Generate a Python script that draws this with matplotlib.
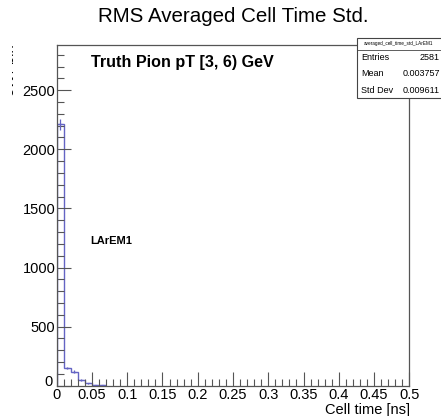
import numpy as np
import matplotlib.pyplot as plt
from matplotlib.ticker import MultipleLocator, FuncFormatter
from matplotlib.transforms import Bbox

# histogram contents (bin width 0.01 ns)
bin_edges = [0.0, 0.01, 0.02, 0.03, 0.04, 0.05, 0.06, 0.07]
counts = [2210, 150, 118, 48, 20, 3, 2]

stat_labels = ['Entries', 'Mean', 'Std Dev']
stat_values = ['2581', '0.003757', '0.009611']

plt.rcParams['font.family'] = ['Liberation Sans', 'DejaVu Sans']

W, H = 441, 416
fig = plt.figure(figsize=(W / 100, H / 100), dpi=100)
ax = fig.add_axes([56.7 / W, 1 - 385.7 / H, (409.3 - 56.7) / W, (385.7 - 45.3) / H])

line_col = '#6464c4'
counts = np.array(counts, dtype=float)
edges = np.array(bin_edges)
centers = 0.5 * (edges[:-1] + edges[1:])
ax.stairs(counts, edges, color=line_col, lw=1.0, baseline=None)
ax.vlines(edges[0], 0, counts[0], color=line_col, lw=1.0)
ax.errorbar(centers, counts, yerr=np.sqrt(counts), xerr=0.0025, fmt='none',
            ecolor=line_col, elinewidth=0.9, capsize=0)

ax.set_xlim(0, 0.5)
ax.set_ylim(0, 2880)

ax.xaxis.set_minor_locator(MultipleLocator(0.01))
ax.yaxis.set_major_locator(MultipleLocator(500))
ax.yaxis.set_minor_locator(MultipleLocator(100))
# the y "0" is placed by hand below, ROOT-style, clear of the x "0"
ax.yaxis.set_major_formatter(FuncFormatter(lambda v, p: '' if v == 0 else '%d' % v))
ax.set_xticks(np.arange(0, 0.501, 0.05))
ax.set_xticklabels(['0', '0.05', '0.1', '0.15', '0.2', '0.25', '0.3', '0.35',
                    '0.4', '0.45', '0.5'])
ax.tick_params(which='both', direction='in', top=False, right=False,
               colors='#555555', labelcolor='black', labelsize=10.5)
ax.tick_params(which='major', length=10, width=0.8)
ax.tick_params(which='minor', length=5, width=0.8)
ax.tick_params(axis='y', pad=1)
ax.tick_params(axis='x', pad=2)
for s in ax.spines.values():
    s.set_color('#555555')
    s.set_linewidth(0.9)

ax.annotate('0', xy=(0, 0), xycoords='data', xytext=(-3, 3),
            textcoords='offset points', ha='right', va='center', fontsize=10.5)

fig.text(233 / W, 1 - 17 / H, 'RMS Averaged Cell Time Std.', ha='center',
         va='center', fontsize=14.8)
fig.text(410 / W, 1 - 410 / H, 'Cell time [ns]', ha='right', va='center',
         fontsize=10.5)

ylab = fig.text(17 / W, 1 - 44 / H, 'evt / bin', rotation=90, ha='right',
                va='top', fontsize=10.5)
ylab.set_clip_box(Bbox([[12, 0], [W, H]]))
ylab.set_clip_on(True)

fig.text(90.7 / W, 1 - 67 / H, 'Truth Pion pT [3, 6) GeV', ha='left',
         va='baseline', fontsize=11.6, fontweight='bold')
fig.text(90.7 / W, 1 - 241 / H, 'LArEM1', ha='left', va='center',
         fontsize=8, fontweight='bold')

# stats box
bx0, bx1, by0, by1 = 356.7, 445, 38.3, 98.3
box = plt.Rectangle((bx0 / W, 1 - by1 / H), (bx1 - bx0) / W, (by1 - by0) / H,
                    transform=fig.transFigure, facecolor='white',
                    edgecolor='#444444', lw=0.8)
fig.add_artist(box)
fig.add_artist(plt.Line2D([bx0 / W, bx1 / W], [1 - 50 / H, 1 - 50 / H],
                          transform=fig.transFigure, color='#444444', lw=0.6))
fig.text(398 / W, 1 - 44 / H, 'averaged_cell_time_std_LArEM1', ha='center',
         va='center', fontsize=3.3)
for i, (lab, val) in enumerate(zip(stat_labels, stat_values)):
    y = 1 - (57 + 16.7 * i) / H
    fig.text(361 / W, y, lab, ha='left', va='center', fontsize=6.5)
    fig.text(440 / W, y, val, ha='right', va='center', fontsize=6.5)

fig.savefig('out.png', dpi=100)
